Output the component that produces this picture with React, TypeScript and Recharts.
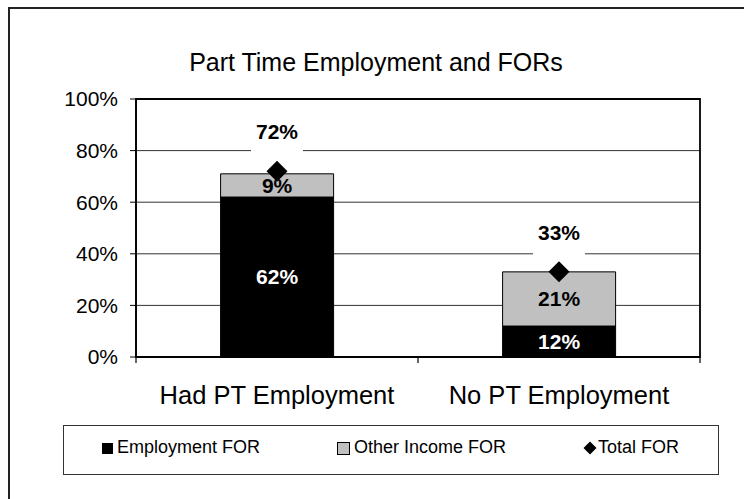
import React from 'react';
import { ComposedChart, Bar, Line, XAxis, YAxis, CartesianGrid, LabelList, ReferenceArea } from 'recharts';

const categories = ['Had PT Employment', 'No PT Employment'];
const employmentFOR = [0.62, 0.12];
const otherIncomeFOR = [0.09, 0.21];
const totalFOR = [0.72, 0.33];
const yTicks = [0, 0.2, 0.4, 0.6, 0.8, 1];
const seriesNames = ['Employment FOR', 'Other Income FOR', 'Total FOR'];

const data = categories.map((name, i) => ({
  name,
  emp: employmentFOR[i],
  other: otherIncomeFOR[i],
  total: totalFOR[i],
}));

const FONT = '"Liberation Sans", Arial, sans-serif';
const GREY = '#C0C0C0';
const pct = (v: any) => `${Math.round(Number(v) * 100)}%`;

const Diamond = (props: any) => {
  const { cx, cy } = props;
  if (cx == null || cy == null) return null;
  const r = 10.5;
  return <polygon points={`${cx},${cy - r} ${cx + r},${cy} ${cx},${cy + r} ${cx - r},${cy}`} fill="#000" />;
};

// total label sits ~40px above the marker on a white box (hides the gridline)
const TotalLabel = (props: any) => {
  const { x, y, value } = props;
  if (x == null || y == null) return null;
  const cy = y - 39.5;
  return (
    <g>
      <rect x={x - 26} y={cy - 20} width={52} height={44} fill="#fff" />
      <text x={x} y={cy} dy="0.355em" textAnchor="middle" fontFamily={FONT} fontWeight="bold" fontSize={21} fill="#000">
        {pct(value)}
      </text>
    </g>
  );
};

// category label + excel style tick marks between categories
const CategoryTick = (props: any) => {
  const { x, y, payload, index, visibleTicksCount } = props;
  const half = payload?.offset || 141;
  return (
    <g>
      <line x1={x - half} x2={x - half} y1={y} y2={y + 6} stroke="#000" strokeWidth={1.2} />
      {index === visibleTicksCount - 1 && (
        <line x1={x + half} x2={x + half} y1={y} y2={y + 6} stroke="#000" strokeWidth={1.2} />
      )}
      <text x={x} y={y + 38} dy="0.355em" textAnchor="middle" fontFamily={FONT} fontSize={25.5} fill="#000">
        {payload.value}
      </text>
    </g>
  );
};

const legendText: React.CSSProperties = {
  position: 'absolute',
  top: 11.5,
  fontFamily: FONT,
  fontSize: 18,
  lineHeight: '18px',
  color: '#000',
  whiteSpace: 'nowrap',
};

export default function App() {
  return (
    <div style={{ position: 'absolute', left: 0, top: 0, width: 744, height: 499, overflow: 'hidden', background: '#fff' }}>
      <div
        style={{
          position: 'absolute',
          left: 8,
          top: 7,
          width: 760,
          height: 520,
          border: '2px solid #222',
          boxSizing: 'border-box',
        }}
      />
      <div
        style={{
          position: 'absolute',
          left: 0,
          top: 50,
          width: 752,
          textAlign: 'center',
          fontFamily: FONT,
          fontSize: 25,
          lineHeight: '25px',
          color: '#000',
        }}
      >
        Part Time Employment and FORs
      </div>

      <div style={{ position: 'absolute', left: 0, top: 0 }}>
        <ComposedChart width={744} height={499} data={data} margin={{ top: 99, right: 44, left: 0, bottom: 82 }} barCategoryGap="30%">
          <CartesianGrid vertical={false} stroke="#333" strokeWidth={1} />
          <XAxis
            dataKey="name"
            height={60}
            tickSize={0}
            tickMargin={0}
            interval={0}
            axisLine={{ stroke: '#000', strokeWidth: 1.5 }}
            tickLine={false}
            tick={<CategoryTick />}
          />
          <YAxis
            domain={[0, 1]}
            ticks={yTicks}
            interval={0}
            tickFormatter={pct}
            width={136}
            tickSize={6}
            tickMargin={12}
            axisLine={{ stroke: '#000', strokeWidth: 1.5 }}
            tickLine={{ stroke: '#000' }}
            tick={{ fill: '#000', fontSize: 21, fontFamily: FONT }}
          />
          <ReferenceArea y1={0} y2={1} fill="none" stroke="#000" strokeWidth={1.8} ifOverflow="visible" />
          <Bar dataKey="emp" name={seriesNames[0]} stackId="s" fill="#000" stroke="#000" strokeWidth={1} isAnimationActive={false}>
            <LabelList dataKey="emp" position="center" formatter={pct} fill="#fff" fontSize={21} fontWeight="bold" fontFamily={FONT} />
          </Bar>
          <Bar dataKey="other" name={seriesNames[1]} stackId="s" fill={GREY} stroke="#000" strokeWidth={1} isAnimationActive={false}>
            <LabelList dataKey="other" position="center" formatter={pct} fill="#000" fontSize={21} fontWeight="bold" fontFamily={FONT} />
          </Bar>
          <Line
            dataKey="total"
            name={seriesNames[2]}
            stroke="none"
            dot={<Diamond />}
            activeDot={false}
            isAnimationActive={false}
          >
            <LabelList dataKey="total" content={<TotalLabel />} />
          </Line>
        </ComposedChart>
      </div>

      {/* legend */}
      <div
        style={{
          position: 'absolute',
          left: 63,
          top: 425,
          width: 656,
          height: 50,
          border: '1.5px solid #333',
          boxSizing: 'border-box',
          background: '#fff',
        }}
      >
        <div style={{ position: 'absolute', left: 38, top: 16.5, width: 11, height: 11, background: '#000' }} />
        <div style={{ ...legendText, left: 53 }}>{seriesNames[0]}</div>
        <div
          style={{
            position: 'absolute',
            left: 273,
            top: 16,
            width: 13,
            height: 13,
            background: GREY,
            border: '1.5px solid #000',
            boxSizing: 'border-box',
          }}
        />
        <div style={{ ...legendText, left: 290 }}>{seriesNames[1]}</div>
        <svg style={{ position: 'absolute', left: 519, top: 15 }} width={14} height={14}>
          <polygon points="7,0.5 13.5,7 7,13.5 0.5,7" fill="#000" />
        </svg>
        <div style={{ ...legendText, left: 534 }}>{seriesNames[2]}</div>
      </div>
    </div>
  );
}
